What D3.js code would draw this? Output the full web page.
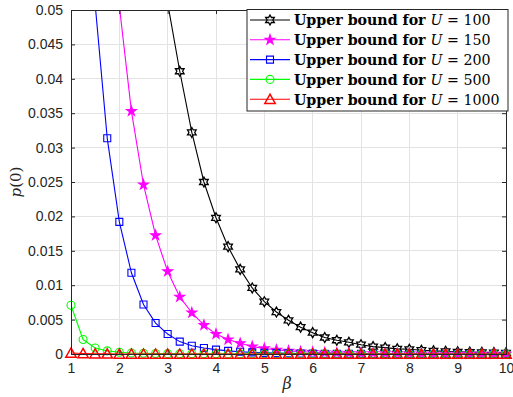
<!DOCTYPE html>
<html><head><meta charset="utf-8">
<script src="https://cdn.jsdelivr.net/npm/d3@7"></script>
<style>body{margin:0;background:#fff}</style>
</head><body><svg id="c" width="513" height="397"></svg>
<script>
const beta = [1,1.25,1.5,1.75,2,2.25,2.5,2.75,3,3.25,3.5,3.75,4,4.25,4.5,4.75,5,5.25,5.5,5.75,6,6.25,6.5,6.75,7,7.25,7.5,7.75,8,8.25,8.5,8.75,9,9.25,9.5,9.75,10];
const pU100 = [0.60,0.42,0.30,0.22,0.16,0.12,0.086,0.066,0.051,0.0411,0.0322,0.0250,0.0198,0.0156,0.0123,0.0096,0.0076,0.0061,0.0049,0.0039,0.0031,0.0024,0.0020,0.0017,0.00135,0.00107,0.00092,0.00074,0.00068,0.00055,0.00046,0.00038,0.00032,0.00027,0.00023,0.0002,0.00017];
const pU150 = [0.30,0.19,0.125,0.08,0.0506,0.0353,0.0246,0.01725,0.0120,0.0083,0.0060,0.0042,0.0029,0.0021,0.00155,0.00108,0.0008,0.0006,0.00045,0.00034,0.00026,0.0002,0.00016,0.00013,0.0001,0.00008,0.00007,0.00006,0.00005,0.00004,0.00003,0.00003,0.00002,0.00002,0.00002,0.00001,0.00001];
const pU200 = [0.13,0.08,0.0508,0.03135,0.0192,0.0118,0.0072,0.0045,0.0029,0.0018,0.0012,0.00087,0.00063,0.00045,0.00032,0.00023,0.00017,0.00012,0.00009,0.00007,0.00005,0.00004,0.00003,0.00002,0.00002,0.00001,0.00001,0.00001,0.00001,0.00001,0.00001,0.00001,0.00001,0.00001,0.00001,0.00001,0.00001];
const pU500 = [0.00708,0.0021,0.00088,0.00045,0.00025,0.00015,0.0001,0.00007,0.00005,0.00004,0.00003,0.00002,0.00002,0.00001,0.00001,0.00001,0.00001,0.00001,0.00001,0,0,0,0,0,0,0,0,0,0,0,0,0,0,0,0,0,0];
const pU1000 = [0.00015,0.00008,0.00004,0.00002,0.00001,0.00001,0,0,0,0,0,0,0,0,0,0,0,0,0,0,0,0,0,0,0,0,0,0,0,0,0,0,0,0,0,0,0];
const xTicks = [1,2,3,4,5,6,7,8,9,10];
const yTicks = [0,0.005,0.01,0.015,0.02,0.025,0.03,0.035,0.04,0.045,0.05];
const yTickLabels = ["0","0.005","0.01","0.015","0.02","0.025","0.03","0.035","0.04","0.045","0.05"];
const seriesNames = ["100","150","200","500","1000"];
const seriesColors = ["#000000","#ff00ff","#0000ff","#00ff00","#ff0000"];
const seriesMarkers = ["hexagram","pentagram","square","circle","triangle"];
const seriesData = [pU100,pU150,pU200,pU500,pU1000];

const svg = d3.select("#c");
const x = d3.scaleLinear().domain([1,10]).range([71,506]);
const y = d3.scaleLinear().domain([0,0.05]).range([354,10]);
const axisCol = "#262626";

const g = svg.append("g");
g.selectAll(".gx").data(xTicks).join("line")
  .attr("x1",d=>x(d)).attr("x2",d=>x(d)).attr("y1",y(0)).attr("y2",y(0.05))
  .attr("stroke","#e3e3e3").attr("stroke-width",1).attr("shape-rendering","crispEdges");
g.selectAll(".gy").data(yTicks).join("line")
  .attr("x1",x(1)).attr("x2",x(10)).attr("y1",d=>y(d)).attr("y2",d=>y(d))
  .attr("stroke","#e3e3e3").attr("stroke-width",1).attr("shape-rendering","crispEdges");

svg.append("clipPath").attr("id","clip").append("rect")
  .attr("x",x(1)).attr("y",y(0.05)).attr("width",x(10)-x(1)).attr("height",y(0)-y(0.05));

function hexagram(R){
  const r = R/Math.sqrt(3);
  let p=[];
  for(let i=0;i<12;i++){
    const a = -Math.PI/2 + i*Math.PI/6;
    const rr = i%2===0?R:r;
    p.push([rr*Math.cos(a), rr*Math.sin(a)]);
  }
  return "M"+p.map(q=>q[0].toFixed(2)+","+q[1].toFixed(2)).join("L")+"Z";
}
function markerPath(kind){
  switch(kind){
    case "hexagram": return hexagram(5);
    case "pentagram": return d3.symbol(d3.symbolStar, 30)();
    case "square": return "M-3.5,-3.5H3.5V3.5H-3.5Z";
    case "circle": return d3.symbol(d3.symbolCircle, 50)();
    case "triangle": return "M0,-5L5.2,4.2L-5.2,4.2Z";
  }
}
function markerFill(kind,col){
  return kind==="pentagram" ? col : "none";
}
function markerStroke(kind){
  return kind==="triangle" ? 1.5 : (kind==="hexagram" ? 1.3 : 1.1);
}

const line = d3.line().x((d,i)=>x(beta[i])).y(d=>y(d));
seriesData.forEach((arr,k)=>{
  const col = seriesColors[k];
  svg.append("path").attr("d",line(arr)).attr("fill","none").attr("stroke",col)
    .attr("stroke-width",1.1).attr("clip-path","url(#clip)");
  const pts = arr.map((v,i)=>({b:beta[i],v})).filter(d=>d.v<=0.05);
  const mp = markerPath(seriesMarkers[k]);
  svg.append("g").selectAll("path").data(pts).join("path")
    .attr("d",mp).attr("transform",d=>`translate(${x(d.b)},${y(d.v)})`)
    .attr("fill",markerFill(seriesMarkers[k],col)).attr("stroke",col)
    .attr("stroke-width",markerStroke(seriesMarkers[k]));
});

svg.append("rect").attr("x",x(1)).attr("y",y(0.05)).attr("width",x(10)-x(1)).attr("height",y(0)-y(0.05))
  .attr("fill","none").attr("stroke",axisCol).attr("stroke-width",1).attr("shape-rendering","crispEdges");
const axB = d3.axisBottom(x).tickValues(xTicks).tickSizeInner(-4).tickSizeOuter(0).tickPadding(9);
const axL = d3.axisLeft(y).tickValues(yTicks).tickFormat((d,i)=>yTickLabels[i]).tickSizeInner(-4).tickSizeOuter(0).tickPadding(8);
const axT = d3.axisTop(x).tickValues(xTicks).tickSizeInner(-4).tickSizeOuter(0).tickFormat("");
const axR = d3.axisRight(y).tickValues(yTicks).tickSizeInner(-4).tickSizeOuter(0).tickFormat("");
function styleAx(sel){
  sel.attr("font-size",null).attr("font-family",null);
  sel.select(".domain").remove();
  sel.selectAll("line").attr("stroke",axisCol);
  sel.selectAll("text").attr("fill",axisCol).style("font-family","'Liberation Sans', Arial, sans-serif").style("font-size","14px");
}
svg.append("g").attr("transform",`translate(0,${y(0)})`).call(axB).call(styleAx);
svg.append("g").attr("transform",`translate(${x(1)},0)`).call(axL).call(styleAx);
svg.append("g").attr("transform",`translate(0,${y(0.05)})`).call(axT).call(styleAx);
svg.append("g").attr("transform",`translate(${x(10)},0)`).call(axR).call(styleAx);

svg.append("text").attr("x",287).attr("y",389).attr("text-anchor","middle")
  .style("font-family","'DejaVu Serif', serif").style("font-style","italic").style("font-size","16px")
  .attr("fill",axisCol).text("β");
svg.append("text").attr("transform","translate(21,182) rotate(-90)").attr("text-anchor","middle")
  .style("font-family","'DejaVu Serif', serif").style("font-size","15px").attr("fill",axisCol)
  .html('<tspan font-style="italic">p</tspan>(0)');

const lg = svg.append("g");
lg.append("rect").attr("x",247).attr("y",9.5).attr("width",261).attr("height",101.5)
  .attr("fill","#fff").attr("stroke",axisCol).attr("stroke-width",1);
seriesNames.forEach((n,k)=>{
  const yy = 20 + k*19.8;
  const col = seriesColors[k];
  lg.append("line").attr("x1",250).attr("x2",290).attr("y1",yy).attr("y2",yy).attr("stroke",col).attr("stroke-width",1.1);
  lg.append("path").attr("d",markerPath(seriesMarkers[k])).attr("transform",`translate(270,${yy})`)
    .attr("fill",markerFill(seriesMarkers[k],col)).attr("stroke",col).attr("stroke-width",markerStroke(seriesMarkers[k]));
  const t = lg.append("text").attr("x",294).attr("y",yy+5.3).attr("fill","#000")
    .style("font-family","'DejaVu Serif', serif").style("font-size","14.2px");
  t.append("tspan").style("font-weight","bold").text("Upper bound for ");
  t.append("tspan").style("font-style","italic").text("U");
  t.append("tspan").text(" = " + n);
});
</script></body></html>
